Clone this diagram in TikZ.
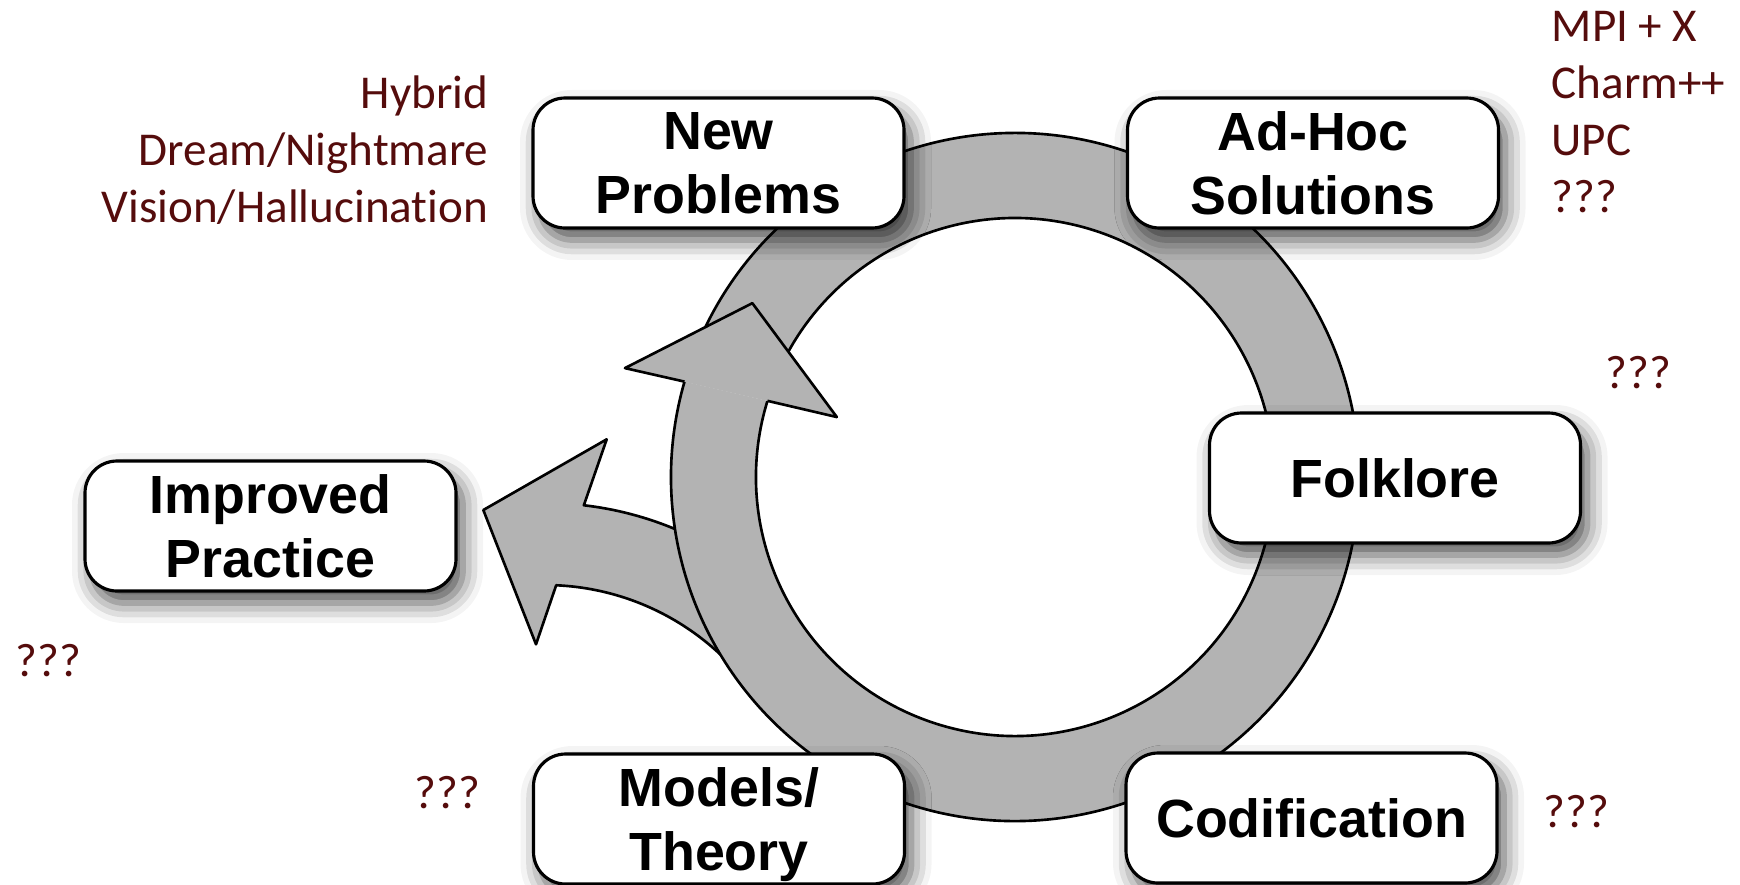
\documentclass[tikz,border=0pt]{standalone}
\usepackage{fontspec}
\setmainfont{Carlito}[Ligatures=NoCommon]
\newfontfamily\stagefont{Liberation Sans}
\usetikzlibrary{shadows.blur}
\definecolor{bandgray}{RGB}{179,179,179}
\definecolor{notered}{RGB}{85,12,12}

\begin{document}
\begin{tikzpicture}[x=0.1mm, y=0.1mm,
    stage/.style={draw, line width=0.9pt, fill=white, rounded corners=3.2mm,
      minimum width=37.1mm, minimum height=13mm, align=center, inner sep=0pt,
      text depth=0pt, font=\stagefont\bfseries\fontsize{15.3}{18.2}\selectfont,
      blur shadow={shadow xshift=0.7mm, shadow yshift=-1.2mm,
        shadow blur radius=2mm, shadow opacity=70}},
    note/.style={text=notered, inner sep=0pt, font=\fontsize{13.4}{16.2}\selectfont},
    band/.style={fill=bandgray, draw=black, line width=0.75pt, line join=round}]
  \useasboundingbox (0,0) rectangle (1740,884);
  \clip (0,0) rectangle (1740,884);

  % side branch out to the left
  \begin{scope}[shift={(545,43)}]
    \filldraw[band] (47:338) arc[start angle=47, end angle=83.4, radius=338]
      -- (61.7,401.7) -- (-61.7,331) -- (-9,196.7)
      -- (87.5:256) arc[start angle=87.5, end angle=44, radius=256] -- cycle;
  \end{scope}

  % the cycle, head drawn last so it hides where the band starts
  \begin{scope}[shift={(1015,407)}]
    \fill[bandgray] (157:344) arc[start angle=157, end angle=-196.1, radius=344]
      -- (-197.1:259) arc[start angle=-197.1, end angle=157, radius=259] -- cycle;
    \draw[band, fill=none] (157:344) arc[start angle=157, end angle=-196.1, radius=344];
    \draw[band, fill=none] (-197.1:259) arc[start angle=-197.1, end angle=157, radius=259];
    \fill[bandgray] (164.4:405) -- (146.5:315) -- (161.4:188) -- cycle;
    \draw[band, fill=none] (163.9:344) -- (164.4:405) -- (146.5:315) -- (161.4:188) -- (162.9:259);
  \end{scope}

  \node[stage] (newprob) at (718.5,721) {New\\Problems};
  \node[stage] (adhoc) at (1313,721) {Ad-Hoc\\Solutions};
  \node[stage] (folklore) at (1395,406) {Folklore};
  \node[stage] (improved) at (270.5,358) {Improved\\Practice};
  \node[stage] (models) at (719,65) {Models/\\Theory};
  \node[stage] (codif) at (1311.5,66) {Codification};

  % base of a multi-line note is its last line
  \node[note, anchor=base east, align=right] (newnote) at (489,662)
    {Hybrid\\Dream/Nightmare\\Vision/Hallucination};
  \node[note, anchor=base west, align=left] (adhocnote) at (1551,672)
    {MPI + X\\Charm++\\UPC\\???};
  \node[note, anchor=base west] (folknote) at (1605,496) {???};
  \node[note, anchor=base west] (impnote) at (15,208) {???};
  \node[note, anchor=base west] (modnote) at (414,76) {???};
  \node[note, anchor=base west] (codnote) at (1543,57) {???};
\end{tikzpicture}
\end{document}
